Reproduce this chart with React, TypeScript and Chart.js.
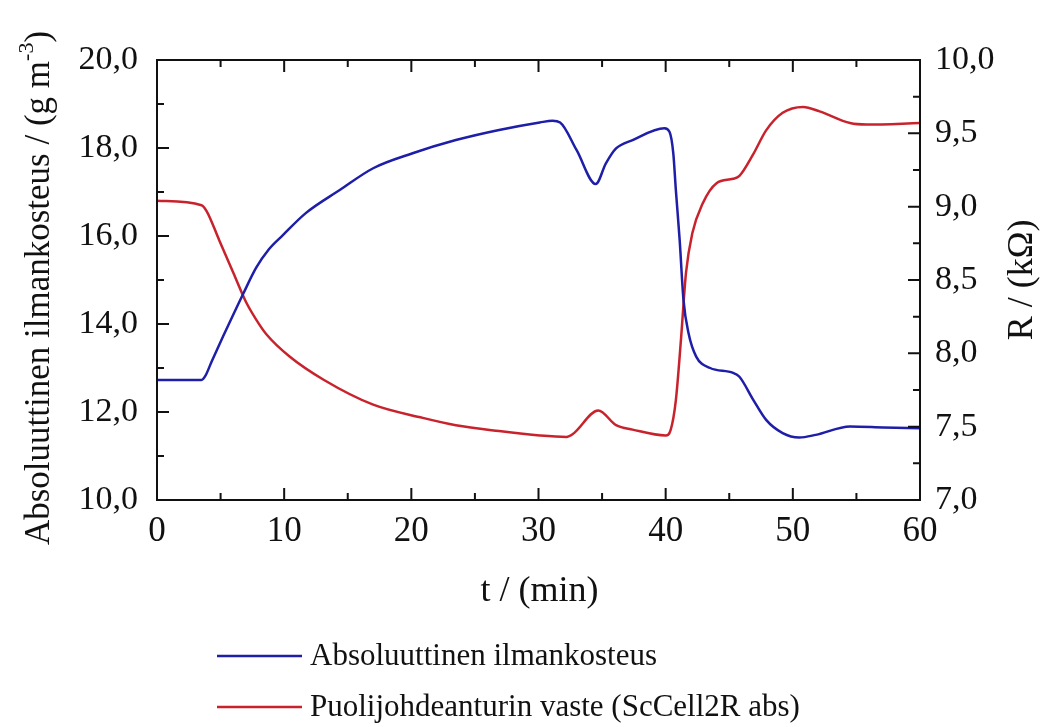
import React, { useEffect, useRef } from "react";
import { Chart, registerables } from "chart.js";

Chart.register(...registerables);

// ---- Data ----
const humidityTime = [0, 3.5, 3.8, 4.3, 5.2, 6.8, 7.8, 8.8, 9.9, 11.7, 14.4, 17.0, 20.1, 23.5, 26.9, 30.1, 31.1, 31.7, 33.0, 34.5, 35.3, 36.1, 37.4, 39.9, 40.3, 40.6, 40.8, 41.1, 41.4, 41.8, 42.4, 43.5, 45.3, 45.8, 46.9, 47.9, 49.2, 50.5, 51.8, 54.5, 57.1, 60];
const humidityValues = [12.73, 12.73, 12.82, 13.15, 13.72, 14.70, 15.28, 15.70, 16.02, 16.52, 17.05, 17.54, 17.88, 18.18, 18.41, 18.58, 18.62, 18.58, 17.95, 17.18, 17.65, 17.99, 18.18, 18.45, 18.37, 17.88, 17.05, 15.91, 14.55, 13.79, 13.26, 13.0, 12.89, 12.80, 12.27, 11.82, 11.52, 11.42, 11.48, 11.67, 11.65, 11.63];

const resistanceTime = [0, 3.5, 3.9, 4.9, 6.0, 7.0, 7.8, 8.6, 10.4, 13.1, 17.0, 20.9, 23.5, 26.9, 30.1, 32.2, 32.7, 34.7, 36.1, 37.4, 40.0, 40.4, 40.8, 41.2, 41.6, 42.1, 42.9, 44.0, 45.3, 45.8, 46.9, 47.9, 49.2, 50.8, 52.1, 54.5, 55.8, 60];
const resistanceValues = [9.04, 9.01, 8.97, 8.77, 8.55, 8.35, 8.23, 8.13, 7.98, 7.82, 7.65, 7.56, 7.51, 7.47, 7.44, 7.43, 7.45, 7.61, 7.51, 7.48, 7.44, 7.48, 7.68, 8.09, 8.55, 8.82, 9.02, 9.16, 9.19, 9.21, 9.36, 9.52, 9.64, 9.68, 9.65, 9.57, 9.56, 9.57];

const xTicks = [0, 10, 20, 30, 40, 50, 60];
const leftTicks = [10, 12, 14, 16, 18, 20];
const rightTicks = [7, 7.5, 8, 8.5, 9, 9.5, 10];

const seriesNames = ["Absoluuttinen ilmankosteus", "Puolijohdeanturin vaste (ScCell2R abs)"];
const seriesColors = ["#1e1ea8", "#c8232c"];

const xTitle = "t / (min)";
const leftTitleMain = "Absoluuttinen ilmankosteus / (g m";
const leftTitleSup = "-3";
const rightTitle = "R / (k\u03A9)";

const FONT = '"Liberation Serif", "Times New Roman", serif';
const W = 1051;
const H = 727;

const comma = (v: number) => v.toFixed(1).replace(".", ",");

const framePlugin = {
  id: "frameTicks",
  afterDraw(chart: any) {
    const { ctx, chartArea: a, scales } = chart;
    ctx.save();
    ctx.strokeStyle = "#111";
    ctx.lineWidth = 2;
    ctx.strokeRect(a.left, a.top, a.right - a.left, a.bottom - a.top);
    const major = 12;
    const minor = 7;
    ctx.beginPath();
    // x ticks (bottom & top), inward
    for (let v = 0; v <= 60; v += 5) {
      const px = scales.x.getPixelForValue(v);
      const len = v % 10 === 0 ? major : minor;
      ctx.moveTo(px, a.bottom);
      ctx.lineTo(px, a.bottom - len);
      ctx.moveTo(px, a.top);
      ctx.lineTo(px, a.top + len);
    }
    // left ticks
    for (let v = 10; v <= 20; v += 1) {
      const py = scales.y.getPixelForValue(v);
      const len = v % 2 === 0 ? major : minor;
      ctx.moveTo(a.left, py);
      ctx.lineTo(a.left + len, py);
    }
    // right ticks
    for (let i = 0; i <= 12; i++) {
      const v = 7 + i * 0.25;
      const py = scales.y1.getPixelForValue(v);
      const len = i % 2 === 0 ? major : minor;
      ctx.moveTo(a.right, py);
      ctx.lineTo(a.right - len, py);
    }
    ctx.stroke();

    // titles
    ctx.fillStyle = "#111";
    ctx.textBaseline = "middle";
    ctx.textAlign = "center";
    ctx.font = `36px ${FONT}`;
    ctx.fillText(xTitle, (a.left + a.right) / 2 + 1, 592);

    // left title with superscript
    ctx.save();
    ctx.translate(40, 288);
    ctx.rotate(-Math.PI / 2);
    ctx.font = `35px ${FONT}`;
    const mainW = ctx.measureText(leftTitleMain).width;
    ctx.font = `22px ${FONT}`;
    const supW = ctx.measureText(leftTitleSup).width;
    ctx.font = `35px ${FONT}`;
    const closeW = ctx.measureText(")").width;
    const total = mainW + supW + closeW;
    const x0 = -total / 2;
    ctx.textAlign = "left";
    ctx.fillText(leftTitleMain, x0, 0);
    ctx.font = `22px ${FONT}`;
    ctx.fillText(leftTitleSup, x0 + mainW, -13);
    ctx.font = `35px ${FONT}`;
    ctx.fillText(")", x0 + mainW + supW, 0);
    ctx.restore();

    // right title
    ctx.save();
    ctx.translate(1023, 280);
    ctx.rotate(-Math.PI / 2);
    ctx.textAlign = "center";
    ctx.font = `36px ${FONT}`;
    ctx.fillText(rightTitle, 0, 0);
    ctx.restore();

    // legend
    const rows = [656, 707];
    ctx.font = `31px ${FONT}`;
    ctx.textAlign = "left";
    rows.forEach((y, i) => {
      ctx.strokeStyle = seriesColors[i];
      ctx.lineWidth = 2.5;
      ctx.beginPath();
      ctx.moveTo(217, y);
      ctx.lineTo(302, y);
      ctx.stroke();
      ctx.fillStyle = "#111";
      ctx.fillText(seriesNames[i], 310, y + 1);
    });
    ctx.restore();
  },
};

export default function App() {
  const ref = useRef<HTMLCanvasElement | null>(null);

  useEffect(() => {
    if (!ref.current) return;
    const zeroPad = (s: any) => {
      s.paddingTop = 0;
      s.paddingBottom = 0;
      s.paddingLeft = 0;
      s.paddingRight = 0;
    };
    const chart = new Chart(ref.current, {
      type: "line",
      data: {
        datasets: [
          {
            label: seriesNames[0],
            data: humidityTime.map((t, i) => ({ x: t, y: humidityValues[i] })),
            borderColor: seriesColors[0],
            borderWidth: 2.5,
            pointRadius: 0,
            cubicInterpolationMode: "monotone",
            yAxisID: "y",
          },
          {
            label: seriesNames[1],
            data: resistanceTime.map((t, i) => ({ x: t, y: resistanceValues[i] })),
            borderColor: seriesColors[1],
            borderWidth: 2.5,
            pointRadius: 0,
            cubicInterpolationMode: "monotone",
            yAxisID: "y1",
          },
        ],
      },
      options: {
        responsive: false,
        animation: false,
        devicePixelRatio: 1,
        layout: { padding: { top: 60, left: 0, right: 0, bottom: 0 } },
        plugins: { legend: { display: false }, tooltip: { enabled: false } },
        scales: {
          x: {
            type: "linear",
            position: "bottom",
            min: 0,
            max: 60,
            afterBuildTicks: (s: any) => {
              s.ticks = xTicks.map((v) => ({ value: v }));
            },
            ticks: { font: { family: FONT, size: 35 }, color: "#111", padding: 11, maxRotation: 0 },
            grid: { display: false, drawTicks: false },
            border: { display: false },
            afterFit: (s: any) => {
              s.height = H - 500;
              zeroPad(s);
            },
          },
          y: {
            type: "linear",
            position: "left",
            min: 10,
            max: 20,
            afterBuildTicks: (s: any) => {
              s.ticks = leftTicks.map((v) => ({ value: v }));
            },
            ticks: { font: { family: FONT, size: 34 }, color: "#111", padding: 19, callback: (v: any) => comma(Number(v)) },
            grid: { display: false, drawTicks: false },
            border: { display: false },
            afterFit: (s: any) => {
              s.width = 157;
              zeroPad(s);
            },
          },
          y1: {
            type: "linear",
            position: "right",
            min: 7,
            max: 10,
            afterBuildTicks: (s: any) => {
              s.ticks = rightTicks.map((v) => ({ value: v }));
            },
            ticks: { font: { family: FONT, size: 34 }, color: "#111", padding: 15, callback: (v: any) => comma(Number(v)) },
            grid: { display: false, drawTicks: false },
            border: { display: false },
            afterFit: (s: any) => {
              s.width = W - 920;
              zeroPad(s);
            },
          },
        },
      },
      plugins: [framePlugin],
    } as any);
    return () => chart.destroy();
  }, []);

  return (
    <div style={{ position: "fixed", left: 0, top: 0, width: W, height: H, background: "#fff" }}>
      <canvas ref={ref} width={W} height={H} style={{ display: "block" }} />
    </div>
  );
}
